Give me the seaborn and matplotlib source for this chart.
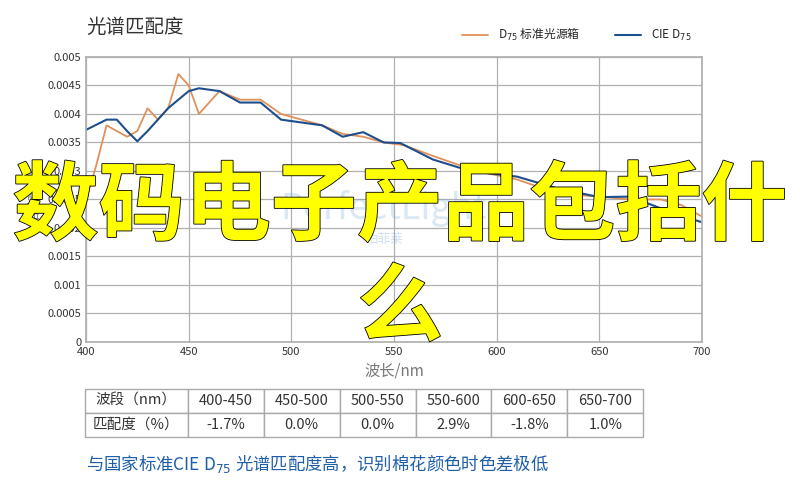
import matplotlib
matplotlib.use("Agg")
import matplotlib.pyplot as plt
import matplotlib.patheffects as pe
import seaborn as sns
import pandas as pd

sns.set_theme(style="white")
plt.rcParams['font.family'] = ['Noto Sans CJK SC', 'DejaVu Sans']

wl_orange = [400, 405, 410, 415, 420, 425, 430, 435, 440, 445, 450, 455, 460, 465, 475, 485, 495, 505,
             515, 525, 535, 545, 555, 570, 590, 610, 630, 650, 665, 680, 690, 700]
orange = [0.0025, 0.0031, 0.0038, 0.0037, 0.0036, 0.0037, 0.0041, 0.0039, 0.0041, 0.0047, 0.0045, 0.0040,
          0.0042, 0.0044, 0.00425, 0.00425, 0.0040, 0.0039, 0.0038, 0.00365, 0.0036, 0.0035, 0.00345,
          0.00325, 0.0030, 0.00285, 0.0026, 0.00255, 0.0025, 0.0025, 0.0024, 0.0022]
wl_blue = [400, 410, 415, 420, 425, 430, 440, 450, 455, 465, 475, 485, 495, 505, 515, 525, 535, 545,
           553, 569, 587, 610, 629, 650, 665, 686, 700]
blue = [0.00372, 0.0039, 0.0039, 0.0037, 0.00352, 0.0037, 0.0041, 0.0044, 0.00445, 0.0044, 0.0042,
        0.0042, 0.0039, 0.00385, 0.0038, 0.0036, 0.00368, 0.0035, 0.00349, 0.0032, 0.0030, 0.0029,
        0.0027, 0.00254, 0.00255, 0.00226, 0.0021]
bands = ["400-450", "450-500", "500-550", "550-600", "600-650", "650-700"]
match = ["-1.7%", "0.0%", "0.0%", "2.9%", "-1.8%", "1.0%"]

fig = plt.figure(figsize=(8, 4.84), dpi=100)
ax = fig.add_axes([0.1075, 0.2934, 0.77, 0.589])
sns.lineplot(x=wl_orange, y=orange, ax=ax, color="#e0915a", lw=1.3, label="D$_{75}$ 标准光源箱")
sns.lineplot(x=wl_blue, y=blue, ax=ax, color="#1f4e8c", lw=1.5, label="CIE D$_{75}$")
ax.set_xlim(400, 700)
ax.set_ylim(0, 0.005)
ax.set_xticks(range(400, 701, 50))
ax.set_yticks([i * 0.0005 for i in range(11)])
ax.set_yticklabels(["0"] + [f"{i*0.0005:g}" for i in range(1, 11)])
ax.tick_params(labelsize=8, colors="#333333", length=0)
ax.grid(True, color="#b0b0b0", lw=0.9)
for s in ax.spines.values():
    s.set_color("#b0b0b0")
ax.set_xlabel("波长/nm", fontsize=11, color="#777777")
ax.set_ylabel("相对强度", fontsize=9, color="#777777")
ax.legend(loc="lower right", bbox_to_anchor=(1.0, 1.01), ncol=2, frameon=False, fontsize=8.5,
          handlelength=2.2, columnspacing=3)
fig.text(0.1075, 0.943, "光谱匹配度", fontsize=14, color="#333333", va="center", fontweight="medium")

fig.text(0.48, 0.57, "PerfectLight", fontsize=26, color="#6fa6d6", alpha=0.25, ha="center", va="center")
fig.text(0.48, 0.505, "泊菲莱", fontsize=9, color="#6fa6d6", alpha=0.35, ha="center", va="center")

cells = [["波段（nm）"] + bands, ["匹配度（%）"] + match]
tb = fig.add_axes([0.106, 0.097, 0.698, 0.10])
tb.axis("off")
t = tb.table(cellText=cells, cellLoc="center", bbox=[0, 0, 1, 1],
             colWidths=[1.36] + [1.0] * 6)
t.auto_set_font_size(False)
t.set_fontsize(10.5)
for c in t.get_celld().values():
    c.set_edgecolor("#aaaaaa")
    c.get_text().set_color("#333333")

fig.text(0.107, 0.042, "与国家标准CIE D$_{75}$ 光谱匹配度高，识别棉花颜色时色差极低", fontsize=12.5,
         color="#1f5fa8", va="center")

eff = [pe.withStroke(linewidth=1.2, foreground="black")]
fig.text(0.5, 0.57, "数码电子产品包括什", fontsize=62, color="#ffff00", ha="center", va="center",
         path_effects=eff, fontweight="bold")
fig.text(0.5, 0.36, "么", fontsize=62, color="#ffff00", ha="center", va="center",
         path_effects=eff, fontweight="bold")

fig.savefig("out.png", dpi=100, facecolor="white")
